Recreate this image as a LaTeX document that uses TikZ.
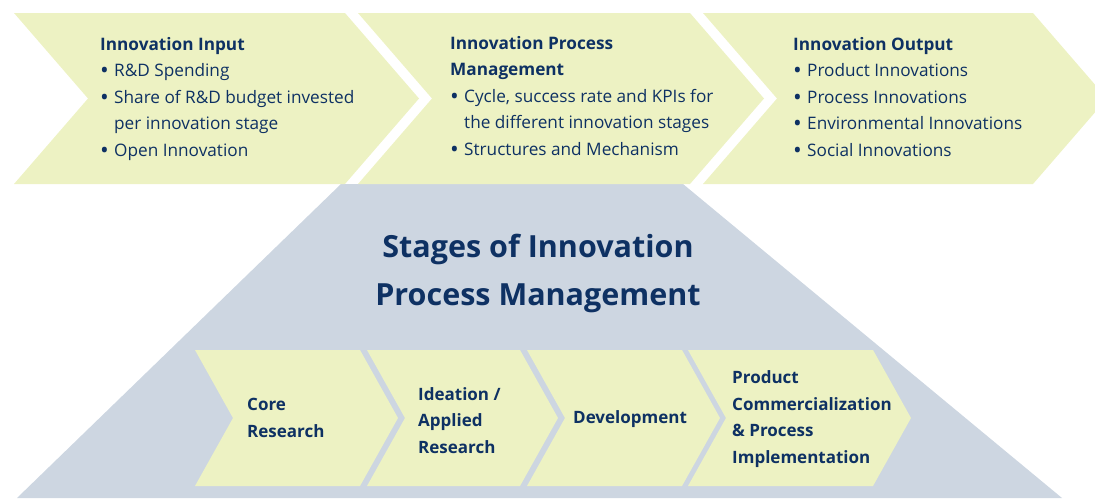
\documentclass[tikz,border=0pt]{standalone}
\usepackage{fontspec}
\setmainfont{Open Sans}
\usetikzlibrary{calc}
\usetikzlibrary{positioning}

\definecolor{chevfill}{HTML}{EDF2C3}
\definecolor{stagegray}{HTML}{CDD6E1}
\definecolor{navy}{HTML}{0E3163}

% chevron: left x, right x, top y, bottom y, depth
\newcommand{\chevron}[5]{%
  \fill[chevfill] (#1,#3) -- (#2,#3) -- ({#2+#5},{(#3+#4)/2}) -- (#2,#4)
    -- (#1,#4) -- ({#1+#5},{(#3+#4)/2}) -- cycle;}
\newcommand{\itm}{\makebox[14pt][l]{\raisebox{-2.2pt}{\scalebox{1.35}{•}}}}
\newcommand{\ind}{\hspace*{14pt}}

\begin{document}
\begin{tikzpicture}[x=1pt, y=-1pt,
    boxtext/.style={anchor=base west, inner sep=0pt, align=left, text=navy,
      font=\fontsize{17.2}{26.5}\selectfont},
    stagetext/.style={anchor=base west, inner sep=0pt, align=left, text=navy,
      font=\bfseries\fontsize{17}{26.5}\selectfont}]
  \useasboundingbox (0,0) rectangle (1095,498);
  \clip (0,0) rectangle (1095,498);

  % stages background
  \fill[stagegray] (341,184) -- (683,184) -- (1062,498) -- (17,498) -- cycle;

  % top row
  \chevron{14}{345}{13}{184}{74}
  \chevron{358}{690}{13}{184}{74}
  \chevron{703}{1033}{13}{184}{74}

  % base anchor = last line
  \node[boxtext] (input) at (100,156) {\textbf{Innovation Input}\\
    \itm R\&D Spending\\
    \itm Share of R\&D budget invested\\
    \ind per innovation stage\\
    \itm Open Innovation};
  \node[boxtext] (process) at (450,155) {\textbf{Innovation Process}\\
    \textbf{Management}\\
    \itm Cycle, success rate and KPIs for\\
    \ind the different innovation stages\\
    \itm Structures and Mechanism};
  \node[boxtext] (output) at (793,156) {\textbf{Innovation Output}\\
    \itm Product Innovations\\
    \itm Process Innovations\\
    \itm Environmental Innovations\\
    \itm Social Innovations};

  % title
  \node[text=navy, inner sep=0pt, align=center, anchor=base,
    font=\bfseries\fontsize{30.5}{48}\selectfont] (title) at (538,305)
    {Stages of Innovation\\Process Management};

  % bottom row
  \chevron{195}{360}{350}{486}{38}
  \chevron{367}{520}{350}{486}{38}
  \chevron{527}{682}{350}{486}{38}
  \chevron{688}{873}{350}{486}{38}

  \node[stagetext] (core) at (247,437) {Core\\Research};
  \node[stagetext] (ideation) at (418,453) {Ideation /\\Applied\\Research};
  \node[stagetext] (devel) at (573,423) {Development};
  \node[stagetext] (commerc) at (732,463) {Product\\Commercialization\\\& Process\\Implementation};
\end{tikzpicture}
\end{document}
